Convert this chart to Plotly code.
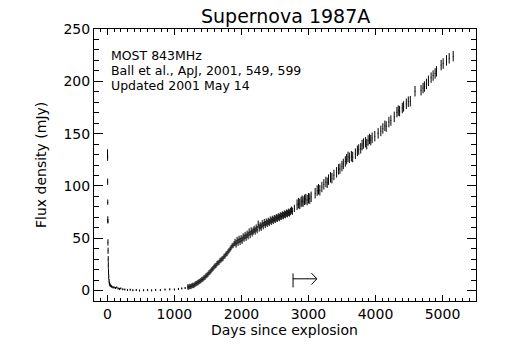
import plotly.graph_objects as go

# ---- data ----
days_early = [2, 3, 4, 5, 6, 7, 8, 10, 12, 14, 17, 20, 25, 30, 36, 42, 50, 60, 70, 85,
              100, 120, 140, 160, 180, 200, 230, 260, 300, 340, 380, 430, 480, 540, 600,
              660, 720, 790, 860, 930, 1000, 1060, 1110, 1160]
flux_early = [131, 127, 104, 84.5, 68, 66, 46, 38, 30, 24, 18, 13, 9, 7, 6, 5, 4.5, 4, 3.5, 3,
              3, 2.5, 3, 2, 1.5, 2, 1.2, 1, 0.5, 0.8, 0.3, 0.5, 0, 0.3, 0.5,
              0.2, 0.6, 0.4, 0.9, 1.2, 1.0, 1.5, 2.0, 2.5]
err_early = [4, 3, 3, 2.5, 3, 2, 3, 3, 3, 3, 3, 2.5, 2, 1.5, 1.5, 1.5, 1, 1, 1, 1,
             1, 1, 1, 1, 1, 1, 1, 1, 1, 1, 1, 1, 1, 1, 1,
             1, 1, 1, 1, 1, 1, 1, 1, 1]

days_rise = [1200, 1215, 1230, 1245, 1260, 1275, 1290, 1305, 1320, 1335, 1350, 1365, 1380,
             1395, 1410, 1425, 1440, 1455, 1470, 1485, 1500, 1515, 1530, 1545, 1560, 1575,
             1590, 1605, 1620, 1635, 1650, 1665, 1680, 1695, 1710, 1725, 1740, 1755, 1770,
             1785, 1800, 1815, 1830, 1845, 1860, 1875, 1890]
flux_rise = [3.5, 3.2, 4.0, 3.8, 4.5, 5.0, 4.8, 5.8, 6.5, 6.9, 7.6, 8.3, 8.8,
             9.6, 10.5, 10.9, 12.0, 12.6, 13.9, 14.6, 15.5, 16.9, 17.6, 18.8, 20.1, 21.0,
             22.4, 23.5, 24.0, 25.6, 26.4, 27.0, 28.5, 29.2, 30.1, 30.8, 32.6, 33.1, 34.9,
             35.4, 37.0, 38.2, 39.5, 41.0, 42.6, 43.1, 44.8]

days_mid = [1905, 1920, 1935, 1950, 1965, 1980, 1995, 2010, 2025, 2040, 2055, 2070, 2085,
            2100, 2115, 2130, 2145, 2160, 2175, 2190, 2205, 2220, 2235, 2250, 2265, 2280,
            2295, 2310, 2325, 2340, 2355, 2370, 2385, 2400, 2415, 2430, 2445, 2460, 2475,
            2490, 2505, 2520, 2535, 2550, 2565, 2580, 2595, 2610, 2625, 2640, 2655, 2670,
            2685, 2700, 2715, 2730, 2745, 2760, 2790]
flux_mid = [46.0, 44.5, 47.8, 46.2, 48.9, 47.1, 49.5, 48.0, 51.2, 50.1, 52.6, 51.0, 53.8,
            52.4, 55.9, 53.5, 57.0, 55.1, 56.8, 58.4, 56.9, 59.7, 58.2, 63.5, 59.8, 61.9,
            60.6, 63.8, 62.0, 64.9, 63.1, 65.4, 64.2, 66.1, 65.0, 67.3, 66.2, 68.0, 67.0,
            68.7, 68.1, 69.6, 69.0, 70.4, 69.8, 71.3, 70.9, 72.2, 71.6, 73.1, 72.5, 74.0,
            73.4, 74.8, 74.1, 75.5, 76.9, 75.8, 78.5]

days_late = [2830, 2850, 2870, 2890, 2905, 2920, 2940, 2960, 2980, 3000, 3020, 3040, 3100,
             3130, 3150, 3170, 3200, 3230, 3260, 3280, 3300, 3330, 3350, 3380, 3420, 3450,
             3470, 3500, 3520, 3550, 3570, 3590, 3610, 3640, 3660, 3700, 3730, 3750, 3780,
             3800, 3820, 3850, 3870, 3890, 3910, 3930, 3950, 3990, 4040, 4080, 4110, 4140,
             4160, 4200, 4230, 4280, 4320, 4340, 4360, 4400, 4420, 4460, 4490, 4520, 4590,
             4680, 4710, 4730, 4760, 4790, 4830, 4860, 4890, 4910, 4980, 5010, 5060, 5100,
             5160]
flux_late = [82.0, 83.5, 82.8, 84.6, 85.8, 84.9, 86.7, 87.4, 86.5, 88.2, 87.8, 89.6, 93.0,
             95.5, 96.8, 95.9, 99.0, 101.5, 103.8, 103.0, 106.0, 108.2, 107.4, 110.5, 113.0, 115.8,
             116.5, 118.9, 121.0, 123.4, 125.5, 127.8, 126.9, 128.4, 127.6, 130.8, 133.5, 134.8, 136.0,
             139.0, 140.5, 141.8, 139.9, 143.5, 145.0, 143.8, 145.9, 147.5, 150.2, 152.6, 155.0, 157.5,
             156.8, 161.0, 162.5, 166.0, 170.5, 172.0, 171.5, 174.5, 176.0, 178.5, 180.5, 181.0, 190.5,
             191.5, 193.5, 195.0, 197.5, 200.5, 203.5, 205.5, 207.5, 209.5, 215.5, 217.0, 220.0, 222.0,
             224.0]

err_rise = 2.5
err_mid = 3.5
err_late = 5.0

# "arrow" annotation (data coordinates)
arrow_x = [2770, 2770, None, 2770, 3125, None, 3045, 3125, 3045]
arrow_y = [3, 16.3, None, 11.2, 11.2, None, 16.6, 11.2, 5.8]

notes = ["MOST 843MHz", "Ball et al., ApJ, 2001, 549, 599", "Updated 2001 May 14"]
title = "Supernova 1987A"
xlabel = "Days since explosion"
ylabel = "Flux density (mJy)"
x_range = [-200, 5500]
y_range = [-10, 250]

FONT = "DejaVu Sans"
W, H = 505, 361
L, R, T, B = 94, 29, 29, 60

fig = go.Figure()


def add_bars(x, y, e):
    fig.add_trace(go.Scatter(
        x=x, y=y, mode="markers",
        marker=dict(size=1, color="black"),
        error_y=dict(type="data", array=e, visible=True, color="black",
                     thickness=1, width=0),
        showlegend=False, hoverinfo="skip"))


add_bars(days_early, flux_early, err_early)
add_bars(days_rise, flux_rise, [err_rise] * len(days_rise))
add_bars(days_mid, flux_mid, [err_mid] * len(days_mid))
add_bars(days_late, flux_late, [err_late] * len(days_late))

fig.add_trace(go.Scatter(x=arrow_x, y=arrow_y, mode="lines",
                         line=dict(color="black", width=1),
                         showlegend=False, hoverinfo="skip"))

ph = H - T - B
pw = W - L - R


def px_to_paper_y(py):
    return (H - B - py) / ph


def px_to_paper_x(px):
    return (px - L) / pw


note_centers = [55, 70, 85]
for t, cy in zip(notes, note_centers):
    fig.add_annotation(text=t, xref="paper", yref="paper",
                       x=px_to_paper_x(109), y=px_to_paper_y(cy),
                       xanchor="left", yanchor="middle",
                       showarrow=False, font=dict(family=FONT, size=12.5, color="black"))

# axis titles as annotations (fixed positions)
fig.add_annotation(text=xlabel, xref="paper", yref="paper",
                   x=px_to_paper_x(284), y=px_to_paper_y(330),
                   xanchor="center", yanchor="middle", showarrow=False,
                   font=dict(family=FONT, size=14, color="black"))
fig.add_annotation(text=ylabel, xref="paper", yref="paper",
                   x=px_to_paper_x(41), y=px_to_paper_y(165),
                   xanchor="center", yanchor="middle", showarrow=False, textangle=-90,
                   font=dict(family=FONT, size=14, color="black"))
fig.add_annotation(text=title, xref="paper", yref="paper",
                   x=px_to_paper_x(285), y=px_to_paper_y(15.5),
                   xanchor="center", yanchor="middle", showarrow=False,
                   font=dict(family=FONT, size=19, color="black"))

fig.update_layout(
    width=W, height=H,
    margin=dict(l=L, r=R, t=T, b=B, autoexpand=False),
    paper_bgcolor="white", plot_bgcolor="white",
    font=dict(family=FONT, size=14, color="black"),
    showlegend=False,
)

fig.update_xaxes(range=x_range, showgrid=False, zeroline=False, automargin=False,
                 showline=True, linecolor="black", linewidth=1, mirror="ticks",
                 ticks="inside", ticklen=6, tickcolor="black", tickwidth=1,
                 dtick=1000, tick0=0,
                 minor=dict(dtick=100, ticks="inside", ticklen=3, tickcolor="black"),
                 tickfont=dict(size=14))
fig.update_yaxes(range=y_range, showgrid=False, zeroline=False, automargin=False,
                 showline=True, linecolor="black", linewidth=1, mirror="ticks",
                 ticks="inside", ticklen=9, tickcolor="black", tickwidth=1,
                 dtick=50, tick0=0,
                 minor=dict(dtick=10, ticks="inside", ticklen=5, tickcolor="black"),
                 tickfont=dict(size=14))

fig.write_html("out.html", config={"displayModeBar": False, "staticPlot": True})

# remove the browser's default page margin so the figure sits at the window origin
with open("out.html", "r", encoding="utf-8") as fh:
    html = fh.read()
html = html.replace("<body>", '<body style="margin:0;padding:0;overflow:hidden">', 1)
with open("out.html", "w", encoding="utf-8") as fh:
    fh.write(html)
